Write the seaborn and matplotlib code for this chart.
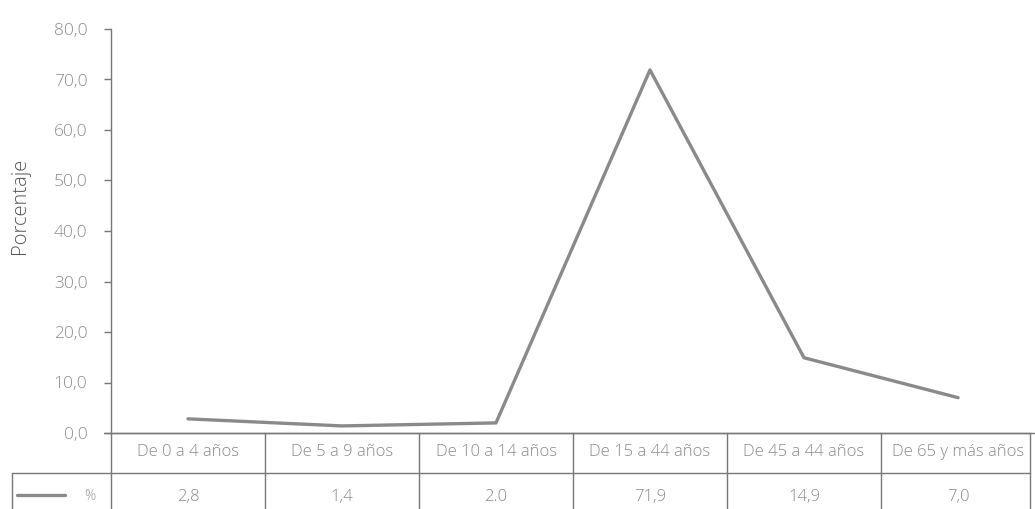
import matplotlib
matplotlib.use("Agg")
import matplotlib.pyplot as plt
import seaborn as sns
import pandas as pd
from matplotlib.lines import Line2D

categories = ["De 0 a 4 años", "De 5 a 9 años", "De 10 a 14 años",
              "De 15 a 44 años", "De 45 a 44 años", "De 65 y más años"]
values = [2.8, 1.4, 2.0, 71.9, 14.9, 7.0]
value_labels = ["2,8", "1,4", "2.0", "71,9", "14,9", "7,0"]
yticks = [0, 10, 20, 30, 40, 50, 60, 70, 80]
ytick_labels = ["0,0", "10,0", "20,0", "30,0", "40,0", "50,0", "60,0", "70,0", "80,0"]
series_name = "%"
ylabel = "Porcentaje"

sns.set_theme(style="white")
plt.rcParams["font.family"] = ["Open Sans", "DejaVu Sans"]

W, H = 1035, 509
fig = plt.figure(figsize=(W / 100, H / 100), dpi=100)
left_px, right_px, top_px, zero_px = 111, 1035, 29, 433
ax = fig.add_axes([left_px / W, 1 - zero_px / H, (right_px - left_px) / W, (zero_px - top_px) / H])

df = pd.DataFrame({"pos": list(range(len(categories))), "val": values, "cat": categories})
sns.lineplot(data=df, x="pos", y="val", ax=ax, color="#8a8a8a", linewidth=2.4)

ax.set_xlim(-0.5, len(categories) - 0.5)
ax.set_ylim(0, 80)
ax.set_yticks(yticks)
ax.set_yticklabels(ytick_labels, color="#8c8c8c", fontsize=12.5, fontweight="light")
ax.tick_params(axis="y", length=5, width=1, color="#777777", pad=12, left=True)
ax.set_xticks([])
ax.set_xlabel("")
ax.set_ylabel("")
for s in ["top", "right"]:
    ax.spines[s].set_visible(False)
ax.spines["left"].set_color("#777777")
ax.spines["bottom"].set_color("#777777")
ax.spines["left"].set_linewidth(1)
ax.spines["bottom"].set_linewidth(1)

fig.text(20 / W, 1 - 206 / H, ylabel, rotation=90, ha="center", va="center",
         fontsize=14.5, color="#555555", fontweight="light")

# data table below axis
lc = "#777777"
def px_line(x0, y0, x1, y1):
    fig.add_artist(Line2D([x0 / W, x1 / W], [1 - y0 / H, 1 - y1 / H],
                          color=lc, linewidth=1, transform=fig.transFigure))

table_right = 1030
row_sep = 473
px_line(104, zero_px, table_right, zero_px)
px_line(12, row_sep, table_right, row_sep)
px_line(left_px, zero_px, left_px, H)
px_line(12, row_sep, 12, H)
px_line(table_right, zero_px, table_right, H)
colw = (right_px - left_px) / len(categories)
for i in range(1, len(categories)):
    x = left_px + i * colw
    px_line(x, zero_px, x, H)

for i, (c, v) in enumerate(zip(categories, value_labels)):
    xc = ax.transData.transform((i, 0))[0]
    fig.text(xc / W, 1 - 452 / H, c, ha="center", va="center", fontsize=12,
             color="#8a8a8a", fontweight="light")
    fig.text(xc / W, 1 - 497 / H, v, ha="center", va="center", fontsize=12,
             color="#8a8a8a", fontweight="light")

px_line(17, 495, 65, 495)
fig.artists[-1].set_color("#8a8a8a")
fig.artists[-1].set_linewidth(2.4)
fig.text(90 / W, 1 - 496 / H, series_name, ha="center", va="center", fontsize=10,
         color="#9a9a9a", fontweight="light")

fig.savefig("out.png", dpi=100)
